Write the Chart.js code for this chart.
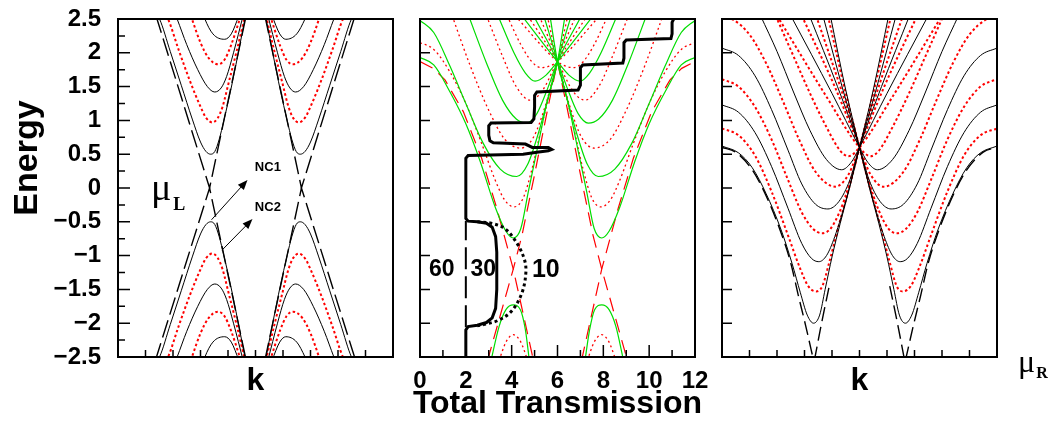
<!DOCTYPE html>
<html>
<head>
<meta charset="utf-8">
<script src="https://cdn.jsdelivr.net/npm/chart.js@4.4.0/dist/chart.umd.min.js"></script>
<style>
  body { margin: 0; background: #fff; }
  #wrap { position: relative; width: 1062px; height: 425px; }
  #wrap canvas { position: absolute; left: 0; top: 0; }
</style>
</head>
<body>
<div id="wrap">
  <canvas id="left" width="1062" height="425"></canvas>
  <canvas id="mid" width="1062" height="425"></canvas>
  <canvas id="right" width="1062" height="425"></canvas>
</div>
<script>
// ---------- ticks ----------
const energyTicks = [2.5, 2, 1.5, 1, 0.5, 0, -0.5, -1, -1.5, -2, -2.5];
const energyLabels = ['2.5', '2', '1.5', '1', '0.5', '0', '\u22120.5', '\u22121', '\u22121.5', '\u22122', '\u22122.5'];
const energyMinor = [2.25, 1.75, 1.25, 0.75, 0.25, -0.25, -0.75, -1.25, -1.75, -2.25];
const kTicks = [1, 2, 3, 4, 5, 6, 7, 8, 9];
const transTicks = [0, 2, 4, 6, 8, 10, 12];
const transLabels = ['0', '2', '4', '6', '8', '10', '12'];
const transMinor = [1, 3, 5, 7, 9, 11];

// ---------- left lead (mu_L): bands as [k, E] ----------
const leftSolid = [
  [[1.42,2.55],[1.51,2.5],[1.9,2.02],[2.3,1.52],[2.7,1.02],[3.0,0.68],[3.2,0.54],[3.37,0.5],[3.52,0.54],[3.68,0.72],[3.85,1.0],[4.1,1.45],[4.35,1.95],[4.64,2.55]],
  [[2.1,2.55],[2.15,2.5],[2.5,2.12],[2.9,1.75],[3.25,1.5],[3.52,1.42],[3.75,1.48],[3.95,1.65],[4.2,2.0],[4.55,2.55]],
  [[3.12,2.55],[3.16,2.5],[3.45,2.28],[3.88,2.2],[4.12,2.28],[4.4,2.55]],
  [[5.36,2.55],[5.65,1.95],[5.9,1.45],[6.15,1.0],[6.32,0.72],[6.48,0.54],[6.63,0.5],[6.8,0.54],[7.0,0.68],[7.3,1.02],[7.7,1.52],[8.1,2.02],[8.49,2.5],[8.58,2.55]],
  [[5.45,2.55],[5.8,2.0],[6.05,1.65],[6.25,1.48],[6.46,1.42],[6.75,1.5],[7.1,1.75],[7.5,2.12],[7.85,2.5],[7.9,2.55]],
  [[5.6,2.55],[5.88,2.28],[6.1,2.2],[6.5,2.28],[6.8,2.5],[6.85,2.55]],
  [[1.42,-2.55],[1.51,-2.5],[1.9,-2.02],[2.3,-1.52],[2.7,-1.02],[3.0,-0.68],[3.2,-0.54],[3.37,-0.5],[3.52,-0.54],[3.68,-0.72],[3.85,-1.0],[4.1,-1.45],[4.35,-1.95],[4.64,-2.55]],
  [[2.1,-2.55],[2.15,-2.5],[2.5,-2.12],[2.9,-1.75],[3.25,-1.5],[3.52,-1.42],[3.75,-1.48],[3.95,-1.65],[4.2,-2.0],[4.55,-2.55]],
  [[3.12,-2.55],[3.16,-2.5],[3.45,-2.28],[3.88,-2.2],[4.12,-2.28],[4.4,-2.55]],
  [[5.36,-2.55],[5.65,-1.95],[5.9,-1.45],[6.15,-1.0],[6.32,-0.72],[6.48,-0.54],[6.63,-0.5],[6.8,-0.54],[7.0,-0.68],[7.3,-1.02],[7.7,-1.52],[8.1,-2.02],[8.49,-2.5],[8.58,-2.55]],
  [[5.45,-2.55],[5.8,-2.0],[6.05,-1.65],[6.25,-1.48],[6.46,-1.42],[6.75,-1.5],[7.1,-1.75],[7.5,-2.12],[7.85,-2.5],[7.9,-2.55]],
  [[5.6,-2.55],[5.88,-2.28],[6.1,-2.2],[6.5,-2.28],[6.8,-2.5],[6.85,-2.55]]
];
const leftDotted = [
  [[1.74,2.55],[1.82,2.5],[2.2,2.05],[2.6,1.6],[2.95,1.25],[3.2,1.04],[3.43,0.97],[3.62,1.03],[3.8,1.2],[4.02,1.55],[4.3,2.0],[4.62,2.55]],
  [[2.65,2.55],[2.69,2.5],[3.0,2.15],[3.3,1.92],[3.64,1.83],[3.88,1.9],[4.1,2.1],[4.47,2.55]],
  [[5.38,2.55],[5.7,2.0],[5.98,1.55],[6.2,1.2],[6.38,1.03],[6.57,0.97],[6.8,1.04],[7.05,1.25],[7.4,1.6],[7.8,2.05],[8.18,2.5],[8.26,2.55]],
  [[5.53,2.55],[5.9,2.1],[6.12,1.9],[6.36,1.83],[6.7,1.92],[7.0,2.15],[7.31,2.5],[7.35,2.55]],
  [[1.74,-2.55],[1.82,-2.5],[2.2,-2.05],[2.6,-1.6],[2.95,-1.25],[3.2,-1.04],[3.43,-0.97],[3.62,-1.03],[3.8,-1.2],[4.02,-1.55],[4.3,-2.0],[4.62,-2.55]],
  [[2.65,-2.55],[2.69,-2.5],[3.0,-2.15],[3.3,-1.92],[3.64,-1.83],[3.88,-1.9],[4.1,-2.1],[4.47,-2.55]],
  [[5.38,-2.55],[5.7,-2.0],[5.98,-1.55],[6.2,-1.2],[6.38,-1.03],[6.57,-0.97],[6.8,-1.04],[7.05,-1.25],[7.4,-1.6],[7.8,-2.05],[8.18,-2.5],[8.26,-2.55]],
  [[5.53,-2.55],[5.9,-2.1],[6.12,-1.9],[6.36,-1.83],[6.7,-1.92],[7.0,-2.15],[7.31,-2.5],[7.35,-2.55]]
];
const leftDashed = [
  [[1.38,2.55],[3.33,0],[4.66,2.55]],
  [[1.36,-2.55],[3.33,0],[4.66,-2.55]],
  [[5.34,2.55],[6.67,0],[8.62,2.55]],
  [[5.34,-2.55],[6.67,0],[8.64,-2.55]]
];

// ---------- central region: bands [k, E] and transmission [T, E] ----------
const midGreen = [
  [[0,1.93],[0.6,1.82],[1.31,1.42],[2.0,0.95],[2.62,0.4],[3.3,-0.3],[3.75,-0.64],[4.07,-0.74],[4.4,-0.6],[4.73,-0.05],[5.1,0.55],[5.5,1.2],[6.0,1.87],[6.33,2.55]],
  [[0,2.48],[0.6,2.3],[1.31,1.8],[2.0,1.25],[2.76,0.66],[3.5,0.28],[4.22,0.17],[4.7,0.35],[5.2,0.85],[5.6,1.35],[6.0,1.87],[6.6,2.55]],
  [[2.12,2.55],[2.9,1.85],[3.6,1.3],[4.2,1.02],[4.66,0.96],[5.1,1.1],[5.6,1.5],[6.0,1.87],[7.05,2.55]],
  [[3.4,2.55],[4.1,2.0],[4.6,1.7],[5.02,1.58],[5.5,1.67],[6.0,1.87],[7.56,2.55]],
  [[5.67,2.55],[6.0,1.87],[6.5,1.2],[6.9,0.55],[7.27,-0.05],[7.6,-0.6],[7.93,-0.74],[8.25,-0.64],[8.7,-0.3],[9.38,0.4],[10.0,0.95],[10.69,1.42],[11.4,1.82],[12,1.93]],
  [[5.4,2.55],[6.0,1.87],[6.4,1.35],[6.8,0.85],[7.3,0.35],[7.78,0.17],[8.5,0.28],[9.24,0.66],[10.0,1.25],[10.69,1.8],[11.4,2.3],[12,2.48]],
  [[4.95,2.55],[6.0,1.87],[6.4,1.5],[6.9,1.1],[7.34,0.96],[7.8,1.02],[8.4,1.3],[9.1,1.85],[9.88,2.55]],
  [[4.44,2.55],[6.0,1.87],[6.5,1.67],[6.98,1.58],[7.4,1.7],[7.9,2.0],[8.6,2.55]],
  [[3.1,-2.55],[3.45,-2.05],[3.75,-1.8],[4.07,-1.73],[4.38,-1.8],[4.6,-2.1],[4.77,-2.55]],
  [[7.2,-2.55],[7.4,-2.1],[7.62,-1.8],[7.93,-1.73],[8.25,-1.8],[8.55,-2.05],[8.88,-2.55]]
];
const midDotted = [
  [[0,2.15],[0.6,2.05],[1.3,1.72],[2.0,1.25],[2.7,0.65],[3.3,0.1],[3.7,-0.18],[4.1,-0.28],[4.5,-0.15],[4.9,0.3],[5.4,1.05],[6.0,1.87],[6.45,2.55]],
  [[1.4,2.55],[2.2,1.8],[3.0,1.15],[3.7,0.72],[4.4,0.59],[4.95,0.75],[5.5,1.25],[6.0,1.87],[6.8,2.55]],
  [[2.9,2.55],[3.6,1.95],[4.2,1.5],[4.8,1.3],[5.3,1.42],[6.0,1.87],[7.3,2.55]],
  [[3.8,2.55],[4.4,2.12],[4.9,1.86],[5.31,1.78],[5.7,1.81],[6.0,1.87],[7.85,2.55]],
  [[5.55,2.55],[6.0,1.87],[6.6,1.05],[7.1,0.3],[7.5,-0.15],[7.9,-0.28],[8.3,-0.18],[8.7,0.1],[9.3,0.65],[10.0,1.25],[10.7,1.72],[11.4,2.05],[12,2.15]],
  [[5.2,2.55],[6.0,1.87],[6.5,1.25],[7.05,0.75],[7.6,0.59],[8.3,0.72],[9.0,1.15],[9.8,1.8],[10.6,2.55]],
  [[4.7,2.55],[6.0,1.87],[6.7,1.42],[7.2,1.3],[7.8,1.5],[8.4,1.95],[9.1,2.55]],
  [[4.15,2.55],[6.0,1.87],[6.3,1.81],[6.69,1.78],[7.1,1.86],[7.6,2.12],[8.2,2.55]],
  [[3.45,-2.55],[3.75,-2.28],[4.07,-2.17],[4.4,-2.28],[4.7,-2.55]],
  [[7.3,-2.55],[7.6,-2.28],[7.93,-2.17],[8.25,-2.28],[8.55,-2.55]]
];
const midDashed = [
  [[0,1.87],[0.58,1.77],[1.09,1.6],[1.89,1.13],[2.69,0.44],[3.35,-0.3],[4.07,-1.2],[4.95,-2.55]],
  [[2.95,-2.55],[4.07,-1.2],[4.45,-0.7],[5.0,0.2],[5.5,1.05],[6.0,1.87]],
  [[7.05,-2.55],[7.93,-1.2],[8.65,-0.3],[9.31,0.44],[10.11,1.13],[10.91,1.6],[11.42,1.77],[12,1.87]],
  [[6.0,1.87],[6.5,1.05],[7.0,0.2],[7.55,-0.7],[7.93,-1.2],[9.05,-2.55]]
];
const trans30 = [[2,-2.55],[2,-2.1],[2.1,-2.05],[2.5,-2.03],[2.9,-1.99],[3.15,-1.92],[3.3,-1.78],[3.35,-1.5],[3.35,-0.95],[3.3,-0.72],[3.15,-0.58],[2.9,-0.52],[2.5,-0.5],[2.1,-0.49],[2,-0.45],
  [2,0.44],[2.1,0.48],[4.5,0.5],[5.1,0.53],[5.6,0.55],[5.75,0.57],[5.6,0.6],[5.2,0.6],[4.9,0.6],[4.6,0.65],[3.2,0.67],[3.05,0.7],[3.0,0.78],[3.0,0.92],[3.1,0.96],
  [4.85,0.97],[4.97,1.02],[5.0,1.2],[5.0,1.37],[5.1,1.42],[6.9,1.45],[7.0,1.52],[7.0,1.78],[7.1,1.82],[8.85,1.85],[8.9,1.92],[8.9,2.15],[9.0,2.19],
  [10.95,2.21],[11.0,2.28],[11.0,2.45],[11.1,2.52],[11.4,2.55]];
const trans10 = [[2.5,-0.5],[3.1,-0.52],[3.7,-0.6],[4.2,-0.8],[4.55,-1.05],[4.62,-1.25],[4.45,-1.55],[4.0,-1.82],[3.4,-1.96],[2.9,-2.01],[2.5,-2.04]];
const trans60 = [[2,-2.06],[2,-0.49]];

// ---------- right lead (mu_R) ----------
const rightSolid = [
  [[0,0.62],[0.6,0.52],[1.1,0.3],[1.6,-0.08],[2.15,-0.62],[2.55,-1.12],[2.85,-1.55],[3.1,-1.88],[3.33,-2.0],[3.55,-1.88],[3.75,-1.5],[4.0,-1.02],[4.3,-0.52],[4.65,0.02],[5.0,0.6],[5.5,1.45],[6.06,2.55]],
  [[3.94,2.55],[4.5,1.45],[5.0,0.6],[5.35,0.02],[5.7,-0.52],[6.0,-1.02],[6.25,-1.5],[6.45,-1.88],[6.67,-2.0],[6.9,-1.88],[7.15,-1.55],[7.45,-1.12],[7.85,-0.62],[8.4,-0.08],[8.9,0.3],[9.4,0.52],[10,0.62]],
  [[0,1.23],[0.6,1.12],[1.2,0.82],[1.8,0.32],[2.4,-0.3],[2.9,-0.82],[3.25,-1.04],[3.52,-1.09],[3.8,-1.0],[4.1,-0.72],[4.55,-0.12],[5.0,0.6],[5.6,1.45],[6.33,2.55]],
  [[3.67,2.55],[4.4,1.45],[5.0,0.6],[5.45,-0.12],[5.9,-0.72],[6.2,-1.0],[6.48,-1.09],[6.75,-1.04],[7.1,-0.82],[7.6,-0.3],[8.2,0.32],[8.8,0.82],[9.4,1.12],[10,1.23]],
  [[0,2.07],[0.6,1.96],[1.2,1.66],[1.8,1.16],[2.4,0.56],[2.9,0.06],[3.4,-0.24],[3.85,-0.31],[4.25,-0.2],[4.65,0.12],[5.0,0.6],[5.8,1.5],[6.82,2.55]],
  [[3.18,2.55],[4.2,1.5],[5.0,0.6],[5.35,0.12],[5.75,-0.2],[6.15,-0.31],[6.6,-0.24],[7.1,0.06],[7.6,0.56],[8.2,1.16],[8.8,1.66],[9.4,1.96],[10,2.07]],
  [[1.4,2.55],[2.0,2.02],[2.6,1.42],[3.2,0.85],[3.8,0.42],[4.35,0.27],[4.7,0.38],[5.0,0.6],[6.0,1.4],[7.5,2.55]],
  [[2.5,2.55],[4.0,1.4],[5.0,0.6],[5.3,0.38],[5.65,0.27],[6.2,0.42],[6.8,0.85],[7.4,1.42],[8.0,2.02],[8.6,2.55]]
];
const rightDotted = [
  [[0,0.88],[0.6,0.78],[1.2,0.48],[1.8,-0.05],[2.4,-0.7],[2.85,-1.2],[3.15,-1.46],[3.43,-1.53],[3.65,-1.45],[3.9,-1.1],[4.25,-0.55],[4.62,0.0],[5.0,0.6],[5.5,1.4],[6.15,2.55]],
  [[3.85,2.55],[4.5,1.4],[5.0,0.6],[5.38,0.0],[5.75,-0.55],[6.1,-1.1],[6.35,-1.45],[6.57,-1.53],[6.85,-1.46],[7.15,-1.2],[7.6,-0.7],[8.2,-0.05],[8.8,0.48],[9.4,0.78],[10,0.88]],
  [[0,1.61],[0.6,1.5],[1.2,1.2],[1.8,0.72],[2.4,0.12],[2.9,-0.36],[3.3,-0.6],[3.64,-0.67],[3.95,-0.6],[4.3,-0.33],[4.65,0.08],[5.0,0.6],[5.7,1.5],[6.58,2.55]],
  [[3.42,2.55],[4.3,1.5],[5.0,0.6],[5.35,0.08],[5.7,-0.33],[6.05,-0.6],[6.36,-0.67],[6.7,-0.6],[7.1,-0.36],[7.6,0.12],[8.2,0.72],[8.8,1.2],[9.4,1.5],[10,1.61]],
  [[0,2.53],[0.36,2.5],[1.0,2.27],[1.6,1.85],[2.2,1.3],[2.8,0.72],[3.4,0.24],[4.12,0.02],[4.6,0.2],[5.0,0.6],[5.9,1.5],[7.1,2.55]],
  [[2.9,2.55],[4.1,1.5],[5.0,0.6],[5.4,0.2],[5.88,0.02],[6.6,0.24],[7.2,0.72],[7.8,1.3],[8.4,1.85],[9.0,2.27],[9.64,2.5],[10,2.53]],
  [[1.95,2.55],[2.6,1.95],[3.2,1.4],[3.8,0.9],[4.3,0.55],[4.6,0.47],[5.0,0.6],[6.2,1.35],[8.0,2.55]],
  [[2.0,2.55],[3.8,1.35],[5.0,0.6],[5.4,0.47],[5.7,0.55],[6.2,0.9],[6.8,1.4],[7.4,1.95],[8.05,2.55]]
];
const rightDashed = [
  [[0,0.6],[0.5,0.53],[1.08,0.28],[1.53,-0.05],[2.11,-0.62],[2.5,-1.11],[2.77,-1.58],[3.05,-2.05],[3.33,-2.55]],
  [[3.36,-2.55],[3.62,-2.0],[3.9,-1.45]],
  [[6.1,-1.45],[6.38,-2.0],[6.64,-2.55]],
  [[6.67,-2.55],[6.95,-2.05],[7.23,-1.58],[7.5,-1.11],[7.89,-0.62],[8.47,-0.05],[8.92,0.28],[9.5,0.53],[10,0.6]]
];

// ---------- helpers ----------
const SANS = '"Liberation Sans", Arial, Helvetica, sans-serif';
const SERIF = '"Liberation Serif", "Times New Roman", serif';
const RED = '#ff0000';
const GREEN = '#00dd00';

function curves(list, style) {
  return list.map(pts => Object.assign({
    data: pts.map(p => ({ x: p[0], y: p[1] })),
    showLine: true,
    pointRadius: 0,
    fill: false,
    clip: 0,
    cubicInterpolationMode: 'monotone'
  }, style));
}

function arrow(ctx, x0, y0, x1, y1) {
  const a = Math.atan2(y1 - y0, x1 - x0), h = 10, w = 4;
  ctx.beginPath();
  ctx.moveTo(x0, y0);
  ctx.lineTo(x1 - h * 0.8 * Math.cos(a), y1 - h * 0.8 * Math.sin(a));
  ctx.stroke();
  ctx.beginPath();
  ctx.moveTo(x1, y1);
  ctx.lineTo(x1 - h * Math.cos(a) + w * Math.sin(a), y1 - h * Math.sin(a) - w * Math.cos(a));
  ctx.lineTo(x1 - h * Math.cos(a) - w * Math.sin(a), y1 - h * Math.sin(a) + w * Math.cos(a));
  ctx.closePath();
  ctx.fill();
}

// frame, inward ticks and text
function framePlugin(opts) {
  return {
    id: 'frame',
    afterDatasetsDraw(chart) {
      const ctx = chart.ctx, a = chart.chartArea;
      const xs = chart.scales.x, ys = chart.scales.y;
      ctx.save();
      ctx.strokeStyle = '#000';
      ctx.fillStyle = '#000';
      ctx.lineWidth = 1.5;
      ctx.beginPath();
      (opts.yMajor || []).forEach(v => {
        const y = ys.getPixelForValue(v);
        ctx.moveTo(a.left, y); ctx.lineTo(a.left + opts.yMajorLen, y);
      });
      (opts.yMinor || []).forEach(v => {
        const y = ys.getPixelForValue(v);
        ctx.moveTo(a.left, y); ctx.lineTo(a.left + 7, y);
      });
      (opts.xMajor || []).forEach(v => {
        const x = xs.getPixelForValue(v);
        ctx.moveTo(x, a.bottom); ctx.lineTo(x, a.bottom - 12);
      });
      (opts.xMinor || []).forEach(v => {
        const x = xs.getPixelForValue(v);
        ctx.moveTo(x, a.bottom); ctx.lineTo(x, a.bottom - 7);
      });
      ctx.stroke();
      ctx.lineWidth = 2;
      ctx.strokeRect(a.left, a.top, a.right - a.left, a.bottom - a.top);
      if (opts.text) opts.text(ctx, a, xs, ys);
      ctx.restore();
    }
  };
}

function makeChart(id, datasets, xMax, pad, plugin) {
  return new Chart(document.getElementById(id), {
    type: 'scatter',
    data: { datasets: datasets },
    options: {
      responsive: false,
      animation: false,
      devicePixelRatio: 1,
      events: [],
      layout: { padding: pad },
      scales: {
        x: { type: 'linear', min: 0, max: xMax, display: false },
        y: { type: 'linear', min: -2.5, max: 2.5, display: false }
      },
      plugins: { legend: { display: false }, tooltip: { enabled: false } }
    },
    plugins: [plugin]
  });
}

// ---------- left panel ----------
makeChart('left', [].concat(
  curves(leftSolid, { borderColor: '#000', borderWidth: 1 }),
  curves(leftDotted, { borderColor: RED, borderWidth: 2, borderDash: [2.5, 2.5] }),
  curves(leftDashed, { borderColor: '#000', borderWidth: 1.4, borderDash: [18, 6], cubicInterpolationMode: 'default', tension: 0 })
), 10, { left: 118, right: 669, top: 19, bottom: 68 }, framePlugin({
  yMajor: energyTicks, yMajorLen: 12, yMinor: energyMinor, xMinor: kTicks,
  text(ctx, a, xs, ys) {
    ctx.font = 'bold 24px ' + SANS;
    ctx.textAlign = 'right';
    ctx.textBaseline = 'middle';
    energyTicks.forEach((v, i) => ctx.fillText(energyLabels[i], a.left - 17, ys.getPixelForValue(v)));
    ctx.textBaseline = 'alphabetic';
    ctx.textAlign = 'center';
    ctx.font = 'bold 32px ' + SANS;
    ctx.fillText('k', (a.left + a.right) / 2, 390);
    ctx.save();
    ctx.translate(37, 158);
    ctx.rotate(-Math.PI / 2);
    ctx.font = 'bold 34px ' + SANS;
    ctx.fillText('Energy', 0, 0);
    ctx.restore();
    // mu_L
    ctx.textAlign = 'left';
    ctx.font = '38px ' + SERIF;
    const mx = xs.getPixelForValue(1.2), my = ys.getPixelForValue(-0.18);
    ctx.fillText('\u03bc', mx, my);
    const mw = ctx.measureText('\u03bc').width;
    ctx.font = 'bold 18px ' + SERIF;
    ctx.fillText('L', mx + mw + 2, my + 10);
    // NC labels and arrows
    ctx.textAlign = 'center';
    ctx.font = 'bold 13px ' + SANS;
    ctx.fillText('NC1', xs.getPixelForValue(5.45), ys.getPixelForValue(0.25));
    ctx.fillText('NC2', xs.getPixelForValue(5.45), ys.getPixelForValue(-0.34));
    ctx.lineWidth = 1;
    arrow(ctx, xs.getPixelForValue(3.4), ys.getPixelForValue(-0.47), xs.getPixelForValue(4.71), ys.getPixelForValue(0.12));
    arrow(ctx, xs.getPixelForValue(3.78), ys.getPixelForValue(-0.92), xs.getPixelForValue(4.89), ys.getPixelForValue(-0.46));
  }
}));

// ---------- middle panel ----------
makeChart('mid', [].concat(
  curves([trans30], { borderColor: '#000', borderWidth: 3, cubicInterpolationMode: 'default', tension: 0, order: 0 }),
  curves([trans10], { borderColor: '#000', borderWidth: 3, borderDash: [3, 3], cubicInterpolationMode: 'default', tension: 0.35, order: 0 }),
  curves([trans60], { borderColor: '#000', borderWidth: 2, borderDash: [22, 7], cubicInterpolationMode: 'default', tension: 0, order: 0 }),
  curves(midGreen, { borderColor: GREEN, borderWidth: 1.2, order: 1 }),
  curves(midDotted, { borderColor: RED, borderWidth: 1.3, borderDash: [2, 3], order: 1 }),
  curves(midDashed, { borderColor: RED, borderWidth: 1.2, borderDash: [14, 8], cubicInterpolationMode: 'default', tension: 0, order: 1 })
), 12, { left: 420, right: 367, top: 19, bottom: 68 }, framePlugin({
  yMajor: energyTicks, yMajorLen: 10, xMajor: transTicks, xMinor: transMinor,
  text(ctx, a, xs, ys) {
    ctx.textAlign = 'center';
    ctx.textBaseline = 'alphabetic';
    ctx.font = 'bold 24px ' + SANS;
    transTicks.forEach((v, i) => ctx.fillText(transLabels[i], xs.getPixelForValue(v), 388));
    ctx.font = 'bold 32px ' + SANS;
    ctx.fillText('Total Transmission', (a.left + a.right) / 2, 413);
    ctx.textBaseline = 'middle';
    ctx.font = 'bold 23px ' + SANS;
    ctx.fillText('60', xs.getPixelForValue(0.95), ys.getPixelForValue(-1.21));
    ctx.fillText('30', xs.getPixelForValue(2.76), ys.getPixelForValue(-1.21));
    ctx.font = 'bold 25px ' + SANS;
    ctx.fillText('10', xs.getPixelForValue(5.49), ys.getPixelForValue(-1.21));
  }
}));

// ---------- right panel ----------
makeChart('right', [].concat(
  curves(rightSolid, { borderColor: '#000', borderWidth: 1 }),
  curves(rightDotted, { borderColor: RED, borderWidth: 2, borderDash: [2.5, 2.5] }),
  curves(rightDashed, { borderColor: '#000', borderWidth: 1.4, borderDash: [14, 6], tension: 0 })
), 10, { left: 722, right: 65, top: 19, bottom: 68 }, framePlugin({
  yMajor: energyTicks, yMajorLen: 10, xMinor: kTicks,
  text(ctx, a, xs, ys) {
    ctx.textAlign = 'center';
    ctx.textBaseline = 'alphabetic';
    ctx.font = 'bold 32px ' + SANS;
    ctx.fillText('k', (a.left + a.right) / 2, 390);
    ctx.textAlign = 'left';
    ctx.font = '32px ' + SERIF;
    ctx.fillText('\u03bc', a.right + 21, 372);
    const mw = ctx.measureText('\u03bc').width;
    ctx.font = 'bold 16px ' + SERIF;
    ctx.fillText('R', a.right + 21 + mw + 1, 378);
  }
}));
</script>
</body>
</html>
